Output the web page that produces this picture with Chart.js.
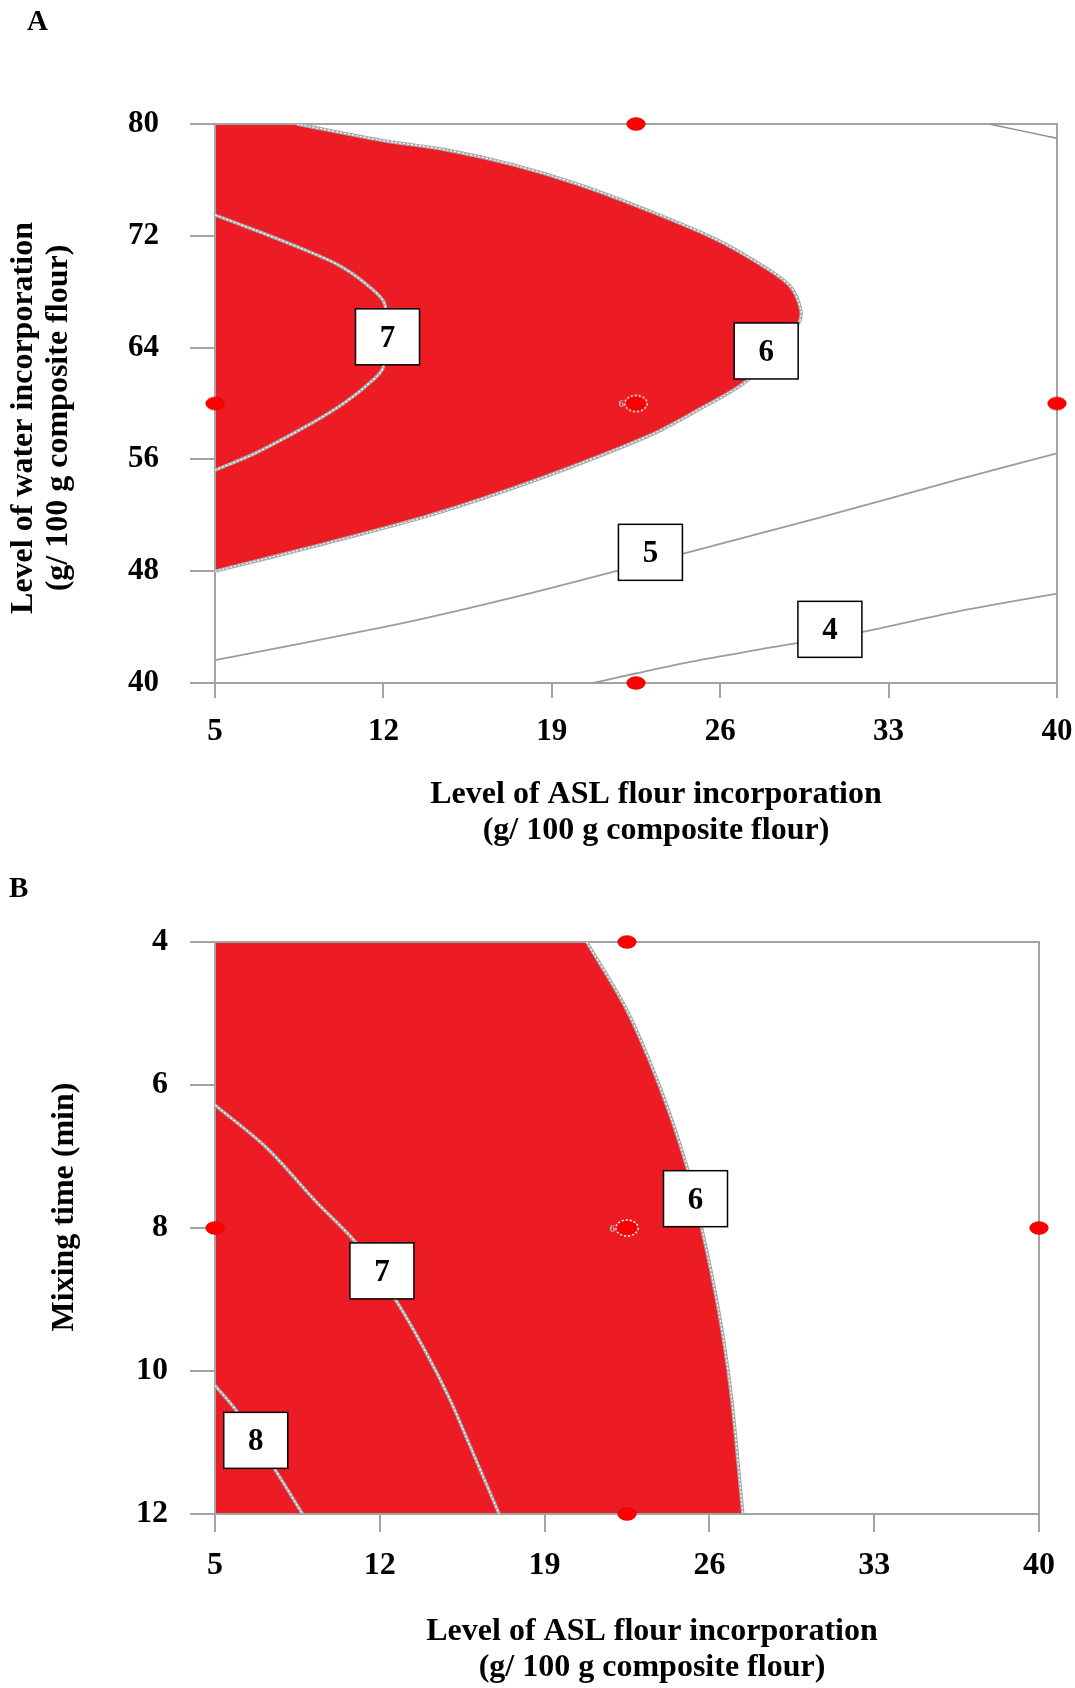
<!DOCTYPE html>
<html lang="en">
<head>
<meta charset="UTF-8">
<title>Contour plots A and B</title>
<script src="https://cdn.jsdelivr.net/npm/chart.js"></script>
<style>
  body { margin: 0; background: #fff; }
  #wrap { position: relative; width: 1075px; height: 1688px; }
  #chartA { position: absolute; left: 0; top: 0; }
  #chartB { position: absolute; left: 0; top: 860px; }
</style>
</head>
<body>
<div id="wrap">
  <canvas id="chartA" width="1075" height="860"></canvas>
  <canvas id="chartB" width="1075" height="828"></canvas>
</div>

<script>
// ---------- data ----------
const xTicks = [5, 12, 19, 26, 33, 40];
const yTicksA = [40, 48, 56, 64, 72, 80];
const yTicksB = [4, 6, 8, 10, 12];

// panel A: contour 6 = edge of the red region (top edge -> tip -> left edge)
const a6x = [8.4, 11.87, 14.64, 17.41, 20.19, 22.97, 25.74, 27.82, 28.93, 29.35, 29.26, 27.14, 25.06, 23.1, 18.44, 13.95, 9.49, 5];
const a6y = [80, 78.85, 78.14, 77.07, 75.63, 73.84, 71.82, 69.79, 68.35, 66.69, 65.76, 61.67, 59.53, 57.74, 54.59, 52.01, 49.94, 48.0];
// plot corners that close the red region
const aHeadX = [5], aHeadY = [80];
const aTailX = [], aTailY = [];
// contour 7
const a7x = [5, 6.66, 8.75, 10.13, 11.24, 12.07, 12.0, 11.24, 10.13, 8.75, 6.66, 5];
const a7y = [73.49, 72.41, 70.98, 69.91, 68.6, 67.04, 62.63, 61.2, 59.76, 58.33, 56.43, 55.23];
// contour 5
const a5x = [5, 12.0, 15.47, 19.15, 30.25, 35.79, 40];
const a5y = [41.63, 44.0, 45.33, 46.88, 51.89, 54.52, 56.43];
// contour 4
const a4x = [20.74, 22.48, 24.7, 27.47, 31.92, 35.79, 40];
const a4y = [40, 40.68, 41.5, 42.35, 43.66, 45.09, 46.4];
// short contour in the top right corner
const aCx = [37.17, 40];
const aCy = [80, 78.98];
// design points
const dAx = [22.5, 5, 40, 22.5];
const dAy = [80, 60, 60, 40];
const cAx = [22.5];
const cAy = [60];
// contour labels
const labA = ['7', '6', '5', '4'];
const labAx = [12.17, 27.91, 23.1, 30.56];
const labAy = [64.77, 63.76, 49.35, 43.84];

// panel B: contour 6 = edge of the red region (top -> bottom)
const b6x = [20.79, 22.49, 23.9, 25.04, 25.67, 26.17, 26.6, 26.95, 27.23, 27.42];
const b6y = [4, 4.95, 6.03, 7.14, 8.0, 8.77, 9.56, 10.4, 11.33, 12];
const bHeadX = [5], bHeadY = [4];
const bTailX = [5], bTailY = [12];
const b7x = [5, 7.2, 9.29, 11.0, 12.72, 13.98, 14.98, 15.9, 17.07];
const b7y = [6.28, 6.88, 7.63, 8.21, 9.03, 9.75, 10.4, 11.1, 12];
const b8x = [5, 5.92, 7.55, 8.72];
const b8y = [10.2, 10.56, 11.38, 12];
const dBx = [22.5, 5, 40, 22.5];
const dBy = [4, 8, 8, 12];
const cBx = [22.5];
const cBy = [8];
const labB = ['6', '7', '8'];
const labBx = [25.41, 12.09, 6.73];
const labBy = [7.59, 8.6, 10.97];

// ---------- look ----------
const FONT = "'Liberation Serif', 'Times New Roman', serif";
const GRAY = '#a3a3a3';
const RED = '#ed1c24';
const TENSION = 0.3;

function pts(xs, ys) {
    return xs.map((x, i) => ({x: x, y: ys[i]}));
}

// red region: corners + contour; the contour ends are doubled so the
// smoothed edge of the fill follows the smoothed contour line exactly
function regionPts(hx, hy, cx, cy, tx, ty) {
    const n = cx.length - 1;
    const xs = hx.concat([cx[0]], cx, [cx[n]], tx);
    const ys = hy.concat([cy[0]], cy, [cy[n]], ty);
    return pts(xs, ys);
}

function ellipseImg(ring) {
    const cv = document.createElement('canvas');
    cv.width = 26; cv.height = 20;
    const g = cv.getContext('2d');
    g.fillStyle = '#ff0000';
    g.beginPath();
    g.ellipse(13, 10, 9.2, 6.3, 0, 0, Math.PI * 2);
    g.fill();
    g.strokeStyle = '#d40000';
    g.lineWidth = 0.8;
    g.stroke();
    if (ring) {
        g.setLineDash([2, 2]);
        g.strokeStyle = '#ffffff';
        g.lineWidth = 1.4;
        g.beginPath();
        g.ellipse(13, 10, 11.2, 8, 0, 0, Math.PI * 2);
        g.stroke();
    }
    return cv;
}
const dotPlain = ellipseImg(false);
const dotRing = ellipseImg(true);

function lineSet(xs, ys, color, width, order, dash) {
    return {
        data: pts(xs, ys), showLine: true, fill: false, tension: TENSION,
        pointRadius: 0, borderColor: color, borderWidth: width,
        borderDash: dash || [], order: order
    };
}

// contour inside the red area: grey line with a white dotted core
function redContour(xs, ys) {
    return [
        lineSet(xs, ys, '#a9a9a9', 3.4, 5),
        lineSet(xs, ys, '#ffffff', 1.2, 4, [2, 2])
    ];
}

// frame drawn right after the red fill, so the lines and dots sit on top
const framePlugin = {
    id: 'frameAfterFill',
    afterDatasetDraw(chart, args) {
        if (args.index !== 0) return;
        const a = chart.chartArea, c = chart.ctx;
        c.save();
        c.strokeStyle = GRAY;
        c.lineWidth = 2;
        c.strokeRect(a.left, a.top, a.right - a.left, a.bottom - a.top);
        c.restore();
    }
};

const decorPlugin = {
    id: 'decor',
    afterDatasetsDraw(chart, args, o) {
        const c = chart.ctx, xs = chart.scales.x, ys = chart.scales.y;
        c.save();
        // replicate count next to the centre point
        c.font = 'bold 11px ' + FONT;
        c.fillStyle = '#b5b5b5';
        c.textAlign = 'right';
        c.textBaseline = 'middle';
        c.fillText('6', xs.getPixelForValue(o.centre[0]) - 12, ys.getPixelForValue(o.centre[1]) + 1);
        // contour labels in boxes
        o.labels.forEach((t, i) => {
            const px = xs.getPixelForValue(o.lx[i]);
            const py = ys.getPixelForValue(o.ly[i]);
            c.fillStyle = '#fff';
            c.fillRect(px - 32, py - 28, 64, 56);
            c.strokeStyle = '#000';
            c.lineWidth = 1.5;
            c.strokeRect(px - 32, py - 28, 64, 56);
            c.fillStyle = '#000';
            c.font = 'bold 31px ' + FONT;
            c.textAlign = 'center';
            c.textBaseline = 'alphabetic';
            c.fillText(t, px, py + 10);
        });
        c.restore();
    },
    afterDraw(chart, args, o) {
        const c = chart.ctx;
        c.save();
        c.fillStyle = '#000';
        c.font = 'bold 29px ' + FONT;
        c.textAlign = 'left';
        c.textBaseline = 'alphabetic';
        c.fillText(o.panel[0], o.panel[1], o.panel[2]);
        c.font = 'bold 32px ' + FONT;
        c.textAlign = 'center';
        o.xTitle.forEach((t, i) => c.fillText(t, o.xTitlePos[0], o.xTitlePos[1] + i * 36));
        o.yTitle.forEach((t, i) => {
            c.save();
            c.translate(o.yTitlePos[0] + i * 35, o.yTitlePos[1]);
            c.rotate(-Math.PI / 2);
            c.fillText(t, 0, 0);
            c.restore();
        });
        c.restore();
    }
};

function makeChart(id, o) {
    return new Chart(document.getElementById(id), {
        type: 'line',
        data: {datasets: o.datasets},
        options: {
            responsive: false,
            animation: false,
            events: [],
            layout: {padding: o.pad},
            plugins: {
                legend: {display: false},
                tooltip: {enabled: false},
                decor: o.decor
            },
            scales: {
                x: {
                    type: 'linear', min: 5, max: 40,
                    afterBuildTicks: s => { s.ticks = xTicks.map(v => ({value: v})); },
                    afterFit: s => { s.height = o.xH; s.paddingLeft = 0; s.paddingRight = 0; },
                    grid: {drawOnChartArea: false, tickLength: o.xTL, color: GRAY, lineWidth: 2},
                    border: {display: true, color: GRAY, width: 2},
                    ticks: {font: {family: FONT, size: o.fs, weight: 'bold'}, color: '#000',
                            padding: o.xPad, maxRotation: 0, autoSkip: false}
                },
                y: {
                    type: 'linear', min: o.yMin, max: o.yMax, reverse: o.reverse,
                    afterBuildTicks: s => { s.ticks = o.yTicks.map(v => ({value: v})); },
                    afterFit: s => { s.width = 215; s.paddingTop = 0; s.paddingBottom = 0; },
                    grid: {drawOnChartArea: false, tickLength: 25, color: GRAY, lineWidth: 2},
                    border: {display: true, color: GRAY, width: 2},
                    ticks: {font: {family: FONT, size: o.fs, weight: 'bold'}, color: '#000',
                            padding: o.yPad, autoSkip: false}
                }
            }
        },
        plugins: [framePlugin, decorPlugin]
    });
}

// ---------- panel A ----------
makeChart('chartA', {
    datasets: [
        {data: regionPts(aHeadX, aHeadY, a6x, a6y, aTailX, aTailY), showLine: true, fill: 'shape',
         backgroundColor: RED, borderWidth: 0, pointRadius: 0, tension: TENSION, order: 10},
        ...redContour(a6x, a6y),
        ...redContour(a7x, a7y),
        lineSet(a5x, a5y, '#9c9c9c', 1.8, 5),
        lineSet(a4x, a4y, '#9c9c9c', 1.8, 5),
        lineSet(aCx, aCy, '#8c8c8c', 1.5, 5),
        {data: pts(dAx, dAy), showLine: false, pointStyle: dotPlain, pointRadius: 10, clip: false, order: 1},
        {data: pts(cAx, cAy), showLine: false, pointStyle: dotRing, pointRadius: 10, clip: false, order: 1}
    ],
    pad: {top: 124, right: 18, left: 0, bottom: 0},
    xH: 177, xTL: 15, xPad: 15, yPad: 31, fs: 31,
    yMin: 40, yMax: 80, reverse: false, yTicks: yTicksA,
    decor: {
        labels: labA, lx: labAx, ly: labAy, centre: [cAx[0], cAy[0]],
        panel: ['A', 27, 30],
        xTitle: ['Level of ASL flour incorporation', '(g/ 100 g composite flour)'],
        xTitlePos: [656, 803],
        yTitle: ['Level of water incorporation', '(g/ 100 g composite flour)'],
        yTitlePos: [32, 418]
    }
});

// ---------- panel B ----------
makeChart('chartB', {
    datasets: [
        {data: regionPts(bHeadX, bHeadY, b6x, b6y, bTailX, bTailY), showLine: true, fill: 'shape',
         backgroundColor: RED, borderWidth: 0, pointRadius: 0, tension: TENSION, order: 10},
        ...redContour(b6x, b6y),
        ...redContour(b7x, b7y),
        ...redContour(b8x, b8y),
        {data: pts(dBx, dBy), showLine: false, pointStyle: dotPlain, pointRadius: 10, clip: false, order: 1},
        {data: pts(cBx, cBy), showLine: false, pointStyle: dotRing, pointRadius: 10, clip: false, order: 1}
    ],
    pad: {top: 82, right: 36, left: 0, bottom: 0},
    xH: 174, xTL: 18, xPad: 15, yPad: 22, fs: 32,
    yMin: 4, yMax: 12, reverse: true, yTicks: yTicksB,
    decor: {
        labels: labB, lx: labBx, ly: labBy, centre: [cBx[0], cBy[0]],
        panel: ['B', 9, 37],
        xTitle: ['Level of ASL flour incorporation', '(g/ 100 g composite flour)'],
        xTitlePos: [652, 780],
        yTitle: ['Mixing time (min)'],
        yTitlePos: [73, 347]
    }
});
</script>
</body>
</html>
